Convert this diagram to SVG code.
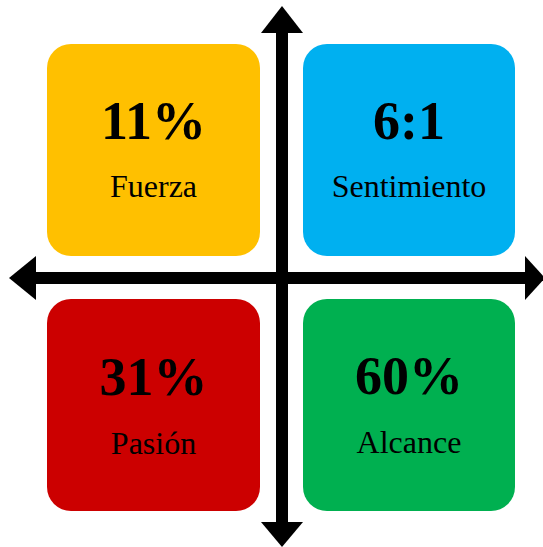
<svg xmlns="http://www.w3.org/2000/svg" width="543" height="547" viewBox="0 0 543 547">
<style>
.big{font-family:"Liberation Serif","Times New Roman",serif;font-weight:bold;font-size:54px;text-anchor:middle;fill:#000}
.lbl{font-family:"Liberation Serif","Times New Roman",serif;font-size:32px;text-anchor:middle;fill:#000}
.ax{fill:#000}
</style>
<rect width="543" height="547" fill="#fff"/>
<g id="fuerza">
<rect x="47" y="44" width="213" height="212" rx="24" fill="#FFC000"/>
<text class="big" x="153.5" y="139">11%</text>
<text class="lbl" x="153.5" y="197">Fuerza</text>
</g>
<g id="sentimiento">
<rect x="303" y="44" width="212" height="212" rx="24" fill="#00B0F0"/>
<text class="big" x="409" y="139">6:1</text>
<text class="lbl" x="409" y="197">Sentimiento</text>
</g>
<g id="pasion">
<rect x="47" y="299" width="213" height="212" rx="24" fill="#CC0000"/>
<text class="big" x="153.5" y="395">31%</text>
<text class="lbl" x="153.5" y="454">Pasión</text>
</g>
<g id="alcance">
<rect x="303" y="299" width="212" height="212" rx="24" fill="#00B050"/>
<text class="big" x="409" y="394">60%</text>
<text class="lbl" x="409" y="453">Alcance</text>
</g>
<g id="connectors">
<rect class="ax" x="276" y="32" width="12" height="491"/>
<polygon class="ax" points="282,6 303,33 261,33"/>
<polygon class="ax" points="282,547 303,522 261,522"/>
<rect class="ax" x="35" y="272" width="491" height="12"/>
<polygon class="ax" points="9,278 36,256 36,300"/>
<polygon class="ax" points="545,278 525,256 525,300"/>
</g>
</svg>
